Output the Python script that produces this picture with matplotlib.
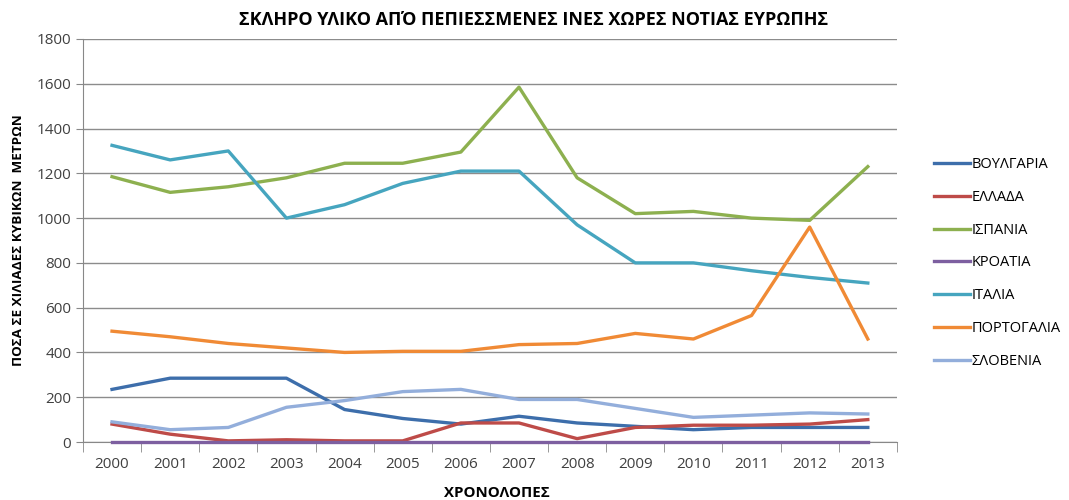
import numpy as np
import matplotlib.pyplot as plt

plt.rcParams['font.family'] = ['Open Sans', 'DejaVu Sans']

years = ['2000', '2001', '2002', '2003', '2004', '2005', '2006',
         '2007', '2008', '2009', '2010', '2011', '2012', '2013']

bulgaria = [235, 285, 285, 285, 145, 105, 80, 115, 85, 70, 55, 65, 65, 65]
greece = [80, 35, 5, 10, 5, 5, 85, 85, 15, 65, 75, 75, 80, 100]
spain = [1185, 1115, 1140, 1180, 1245, 1245, 1295, 1585, 1180, 1020, 1030, 1000, 990, 1230]
croatia = [0, 0, 0, 0, 0, 0, 0, 0, 0, 0, 0, 0, 0, 0]
italy = [1325, 1260, 1300, 1000, 1060, 1155, 1210, 1210, 970, 800, 800, 765, 735, 710]
portugal = [495, 470, 440, 420, 400, 405, 405, 435, 440, 485, 460, 565, 960, 460]
slovenia = [90, 55, 65, 155, 185, 225, 235, 190, 190, 150, 110, 120, 130, 125]

names = ['ΒΟΥΛΓΑΡΙΑ', 'ΕΛΛΑΔΑ', 'ΙΣΠΑΝΙΑ', 'ΚΡΟΑΤΙΑ', 'ΙΤΑΛΙΑ', 'ΠΟΡΤΟΓΑΛΙΑ', 'ΣΛΟΒΕΝΙΑ']
series = [bulgaria, greece, spain, croatia, italy, portugal, slovenia]
colors = ['#3d6eab', '#be4b48', '#8db04f', '#7d5fa0', '#46a5bf', '#f08a35', '#93aedb']

fig = plt.figure(figsize=(10.69, 5), dpi=100)
ax = fig.add_axes([0.0776, 0.116, 0.7614, 0.806])

x = np.arange(len(years))
for vals, name, c in zip(series, names, colors):
    ax.plot(x, vals, color=c, lw=2.4, label=name, clip_on=False, zorder=3)

ax.set_xlim(-0.5, len(years) - 0.5)
ax.set_ylim(0, 1800)
ax.set_yticks(range(0, 1801, 200))
ax.set_xticks(x)
ax.set_xticklabels(years)
ax.set_xticks(np.arange(-0.5, len(years), 1), minor=True)
ax.tick_params(axis='x', which='major', length=0, pad=11, labelsize=11, colors='#404040')
ax.tick_params(axis='x', which='minor', length=7, color='#888888', direction='out')
ax.tick_params(axis='y', length=5, color='#888888', labelsize=11, labelcolor='#404040')
ax.grid(axis='y', color='#8c8c8c', lw=1)
ax.set_axisbelow(True)
for s in ['top', 'right']:
    ax.spines[s].set_visible(False)
ax.spines['left'].set_color('#888888')
ax.spines['bottom'].set_color('#888888')

fig.text(0.499, 0.96, 'ΣΚΛΗΡΟ ΥΛΙΚΟ ΑΠΌ ΠΕΠΙΕΣΣΜΕΝΕΣ ΙΝΕΣ ΧΩΡΕΣ ΝΟΤΙΑΣ ΕΥΡΩΠΗΣ',
         ha='center', va='center', fontsize=13, fontweight='bold')
fig.text(0.017, 0.52, 'ΠΟΣΑ ΣΕ ΧΙΛΙΑΔΕΣ ΚΥΒΙΚΩΝ  ΜΕΤΡΩΝ', rotation=90,
         ha='center', va='center', fontsize=9.7, fontweight='bold')
fig.text(0.465, 0.014, 'ΧΡΟΝΟΛΟΠΕΣ', ha='center', va='center', fontsize=10.8, fontweight='bold')

fig.legend(loc='upper left', bbox_to_anchor=(0.861, 0.712), frameon=False,
           fontsize=10.5, handlelength=2.5, handletextpad=0.1, labelspacing=1.22)

fig.savefig('out.png', dpi=100)
